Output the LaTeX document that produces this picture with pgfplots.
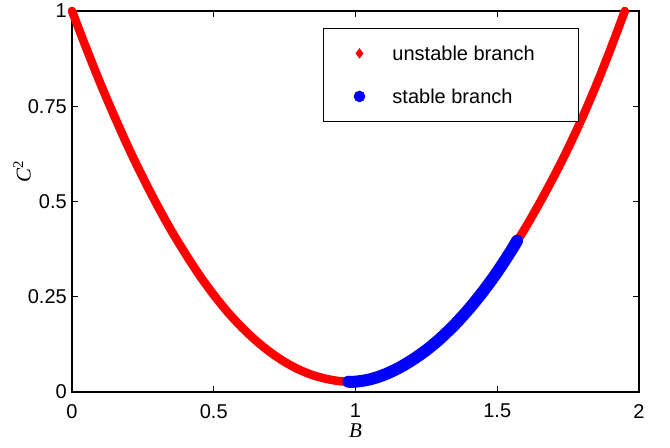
\documentclass[border=0pt]{standalone}
\usepackage{fontspec}
\setmainfont{Liberation Sans}
\newfontfamily\tms{Liberation Serif}
\usepackage{pgfplots}
\pgfplotsset{compat=1.18}

% legend image: marker at the origin, cell padded to fit the box
\pgfplotsset{legimg/.style={legend image code/.code={%
  \path[draw=none, fill=none] (-36bp,-21.5bp) rectangle (33bp,21.5bp);
  \draw[##1] plot coordinates {(0bp,0bp)};}}}

\begin{document}
\begin{tikzpicture}
\begin{axis}[
    at={(72bp,56bp)}, anchor=south west,
    scale only axis, width=567bp, height=381bp,
    xmin=0, xmax=2, ymin=0, ymax=1,
    xtick={0,0.5,1,1.5,2},
    ytick={0,0.25,0.5,0.75,1},
    tick align=inside,
    major tick length=6bp,
    tick style={black, line width=0.8bp},
    axis line style={line width=1.2bp},
    clip=false,
    /pgf/number format/assume math mode=true,
    tick label style={font=\fontsize{20bp}{24bp}\selectfont},
    xticklabel style={inner ysep=12bp},
    yticklabel style={inner xsep=5bp, inner ysep=0pt},
    label style={font=\fontsize{21bp}{24bp}\selectfont},
    xlabel={\tms\itshape B},
    ylabel={\tms\itshape C\textsuperscript{\upshape 2}},
    xlabel style={at={(axis description cs:0.5,-0.1024)}, anchor=center},
    ylabel style={at={(axis description cs:-0.0882,0.5774)}, anchor=center},
    legend cell align=left,
    legend style={at={(0.4427,0.9554)}, anchor=north west,
      draw=black, line width=0.9bp, fill=white,
      inner xsep=0pt, inner ysep=3.5bp,
      nodes={inner sep=0pt, text depth=0pt},
      row sep=0pt,
      font=\fontsize{20bp}{24bp}\selectfont},
  ]

% whole branch (unstable), drawn first
\addplot[red, line width=8.5bp, line cap=round, line join=round, smooth, forget plot]
  coordinates {
  (0.00,1.000) (0.05,0.903) (0.10,0.810) (0.15,0.723) (0.20,0.640)
  (0.25,0.563) (0.30,0.491) (0.35,0.424) (0.40,0.363) (0.45,0.306)
  (0.50,0.255) (0.55,0.209) (0.60,0.169) (0.65,0.134) (0.70,0.104)
  (0.75,0.079) (0.80,0.059) (0.85,0.044) (0.90,0.034) (0.95,0.028)
  (1.00,0.027) (1.05,0.033) (1.10,0.045) (1.15,0.062) (1.20,0.084)
  (1.25,0.110) (1.30,0.141) (1.35,0.177) (1.40,0.218) (1.45,0.264)
  (1.50,0.315) (1.55,0.372) (1.60,0.432) (1.65,0.497) (1.70,0.566)
  (1.75,0.640) (1.80,0.720) (1.85,0.807) (1.90,0.901) (1.95,1.000)
  };

% stable part
\addplot[blue, line width=12bp, line cap=round, line join=round, smooth, forget plot]
  coordinates {
  (0.975,0.027) (1.00,0.027) (1.05,0.033) (1.10,0.045) (1.15,0.062)
  (1.20,0.084) (1.25,0.110) (1.30,0.141) (1.35,0.177) (1.40,0.218)
  (1.45,0.264) (1.50,0.315) (1.55,0.372) (1.57,0.397)
  };

\addlegendimage{legimg, red, mark=diamond*, mark size=4.5bp}
\addlegendentry{\makebox[186bp][l]{unstable branch}}
\addlegendimage{legimg, blue, mark=*, mark size=5.3bp}
\addlegendentry{\makebox[186bp][l]{stable branch}}
\end{axis}
\pgfresetboundingbox
\path (0,0) rectangle (670bp,448bp);
\end{tikzpicture}
\end{document}
